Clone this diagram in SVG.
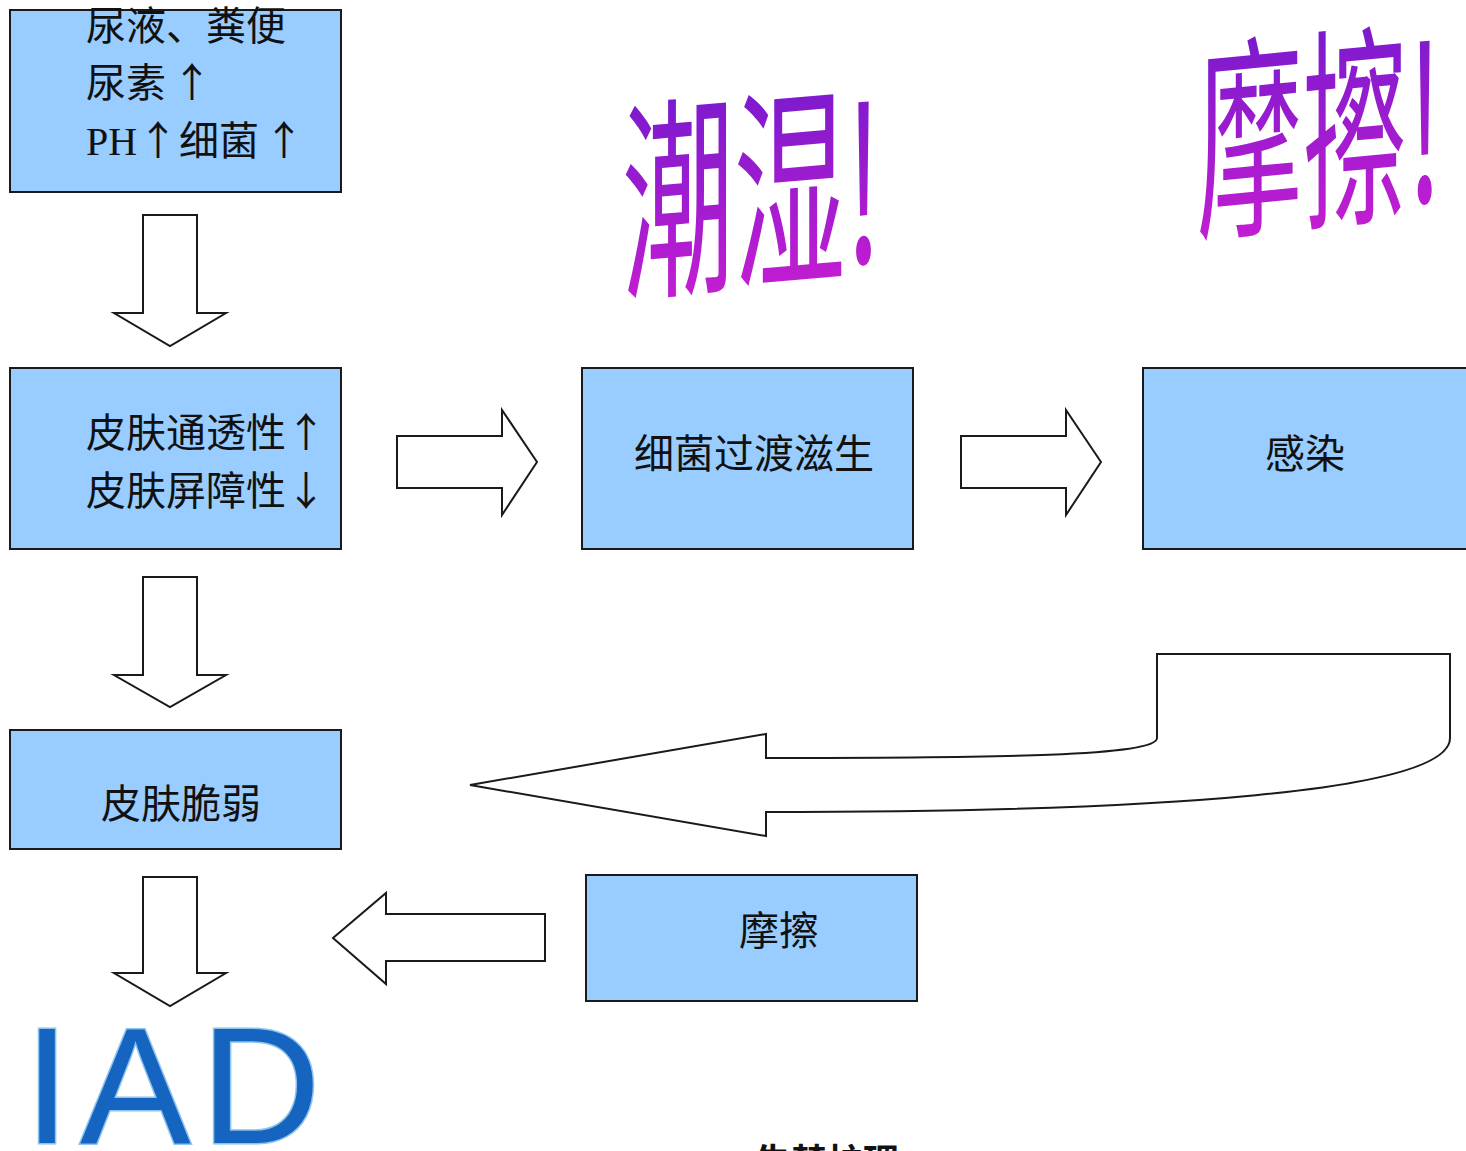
<svg xmlns="http://www.w3.org/2000/svg" width="1466" height="1151" viewBox="0 0 1466 1151">
<style>
.box{fill:#99ccff;stroke:#1a1a1a;stroke-width:2}
.arr{fill:#fff;stroke:#1a1a1a;stroke-width:2;stroke-linejoin:miter}
.t{font-family:"Liberation Serif","Noto Sans CJK SC",serif;font-size:40px;fill:#111}
.up{font-family:"Noto Sans CJK SC",sans-serif}
.wa{font-family:"Noto Sans CJK SC",sans-serif;font-size:215px;fill:url(#pg)}
</style>
<defs>
<linearGradient id="pg" x1="0" y1="0" x2="0" y2="1">
<stop offset="0" stop-color="#6419cc"/>
<stop offset="1" stop-color="#d21ed2"/>
</linearGradient>
</defs>
<g id="wordart-chaoshi">
<text class="wa" transform="translate(622,284) skewY(-5) scale(0.52,1)">潮湿!</text>
</g>
<g id="wordart-moca">
<text class="wa" transform="translate(1197,224) skewY(-5.5) scale(0.49,1)">摩擦!</text>
</g>
<g id="node-niaoye">
<rect class="box" x="10" y="10" width="331" height="182"/>
<text class="t" x="86" y="40">尿液、粪便</text>
<text class="t" x="86" y="97">尿素<tspan class="up" x="172">↑</tspan></text>
<text class="t" x="86" y="155">PH<tspan class="up" x="138">↑</tspan><tspan x="179">细菌</tspan><tspan class="up" x="264">↑</tspan></text>
</g>
<g id="node-pifu">
<rect class="box" x="10" y="368" width="331" height="181"/>
<text class="t" x="86" y="447">皮肤通透性<tspan class="up">↑</tspan></text>
<text class="t" x="86" y="505">皮肤屏障性<tspan class="up">↓</tspan></text>
</g>
<g id="node-cuiruo">
<rect class="box" x="10" y="730" width="331" height="119"/>
<text class="t" x="181" y="818" text-anchor="middle">皮肤脆弱</text>
</g>
<g id="node-xijun">
<rect class="box" x="582" y="368" width="331" height="181"/>
<text class="t" x="754" y="468" text-anchor="middle">细菌过渡滋生</text>
</g>
<g id="node-ganran">
<rect class="box" x="1143" y="368" width="330" height="181"/>
<text class="t" x="1305" y="468" text-anchor="middle">感染</text>
</g>
<g id="node-moca">
<rect class="box" x="586" y="875" width="331" height="126"/>
<text class="t" x="779" y="945" text-anchor="middle">摩擦</text>
</g>
<g id="node-iad">
<text x="24" y="1143" font-family="Liberation Sans,Arial,sans-serif" font-size="166" fill="#1565c0" stroke="#8cc3ef" stroke-width="3" paint-order="stroke" letter-spacing="10">IAD</text>
</g>
<g id="title">
<text x="755" y="1175" font-family="Noto Sans CJK SC,sans-serif" font-weight="bold" font-size="36" fill="#111">失禁护理</text>
</g>
<g id="connectors">
<path class="arr" d="M143,215 H197 V313 H226 L170,346 L114,313 H143 Z"/>
<path class="arr" d="M143,577 H197 V675 H226 L170,707 L114,675 H143 Z"/>
<path class="arr" d="M143,877 H197 V973 H226 L170,1006 L114,973 H143 Z"/>
<path class="arr" d="M397,436 H502 V410 L537,462 L502,515 V488 H397 Z"/>
<path class="arr" d="M961,436 H1066 V410 L1101,462 L1066,515 V488 H961 Z"/>
<path class="arr" d="M545,914 H386 V893 L333,938 L386,984 V961 H545 Z"/>
<path class="arr" d="M1157,654 L1450,654 L1450,738 C1450,792 1160,812 766,812 L766,836 L470,785 L766,734 L766,758 C1000,758 1157,756 1157,738 Z"/>
</g>
</svg>
